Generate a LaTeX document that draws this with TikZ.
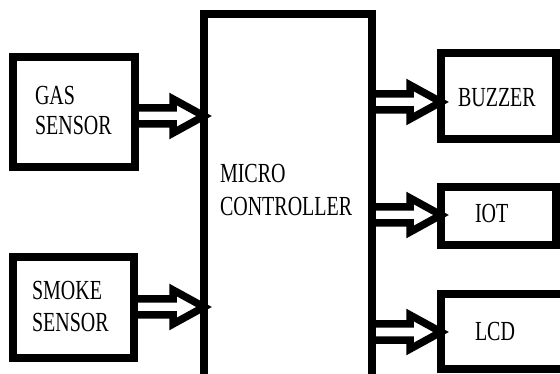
\documentclass[tikz,border=0pt]{standalone}
\usepackage{fontspec}
\usepackage{graphicx}
\setmainfont{Liberation Serif}
\usetikzlibrary{calc}
\newcommand\tall[1]{\scalebox{1}[1.38]{#1}}
\tikzset{
  blk/.style={draw=black, line width=7.5pt, inner sep=0pt, outer sep=0pt},
  txt/.style={anchor=base west, inner sep=0pt, outer sep=0pt, font=\rmfamily\fontsize{20}{24}\selectfont},
  harrow/.style={draw=black, line width=7.5pt, line join=miter}
}
% hollow block arrow: source node, target node, y (image px)
\newcommand\hollowarrow[3]{%
  \draw[harrow] ($(#1.east|-0,#3)+(0,-8)$) -- ($(#2.west|-0,#3)+(-31,-8)$)
    -- ($(#2.west|-0,#3)+(-31,-17)$) -- ($(#2.west|-0,#3)$)
    -- ($(#2.west|-0,#3)+(-31,17)$) -- ($(#2.west|-0,#3)+(-31,8)$)
    -- ($(#1.east|-0,#3)+(0,8)$);}
\begin{document}
\begin{tikzpicture}[x=1pt,y=-1pt]
\useasboundingbox[fill=white] (0,0) rectangle (560,374);
% boxes
\node[blk, minimum width=122pt, minimum height=110pt] (gas) at (74,112) {};
\node[blk, minimum width=121pt, minimum height=101pt] (smoke) at (73.5,307.5) {};
\node[blk, minimum width=168pt, minimum height=386pt] (mc) at (288,207) {};
\node[blk, minimum width=115pt, minimum height=86pt] (buzzer) at (498.5,96) {};
\node[blk, minimum width=115pt, minimum height=58pt] (iot) at (498.5,216) {};
\node[blk, minimum width=159pt, minimum height=75pt] (lcd) at (520.5,331.5) {};
% texts
\node[txt] (gas1) at (35,105) {\tall{GAS}};
\node[txt] (gas2) at (35,135) {\tall{SENSOR}};
\node[txt] (smk1) at (32,300) {\tall{SMOKE}};
\node[txt] (smk2) at (32,331) {\tall{SENSOR}};
\node[txt] (mc1) at (220,183) {\tall{MICRO}};
\node[txt] (mc2) at (220,216) {\tall{CONTROLLER}};
\node[txt] (bz) at (458,107) {\tall{BUZZER}};
\node[txt] (io) at (475,223) {\tall{IOT}};
\node[txt] (lc) at (475,341) {\tall{LCD}};
% arrows
\hollowarrow{gas}{mc}{116}
\hollowarrow{smoke}{mc}{307}
\hollowarrow{mc}{buzzer}{102}
\hollowarrow{mc}{iot}{215}
\hollowarrow{mc}{lcd}{332}
\end{tikzpicture}
\end{document}
